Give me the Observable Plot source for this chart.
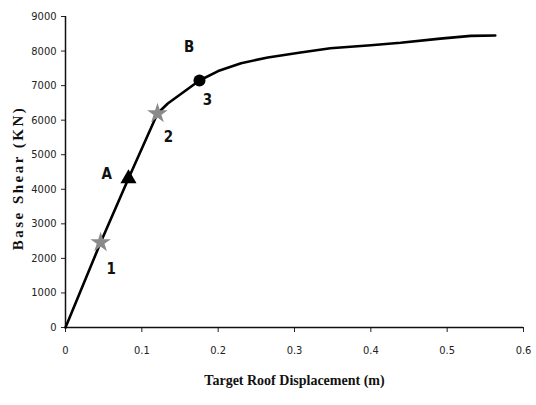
<!DOCTYPE html>
<html><head><meta charset="utf-8">
<script src="https://cdn.jsdelivr.net/npm/d3@7"></script>
<script src="https://cdn.jsdelivr.net/npm/@observablehq/plot@0.6"></script>
<style>
body{margin:0;background:#fff;}
svg{font-family:"Liberation Sans Narrow","DejaVu Sans Condensed",sans-serif;font-stretch:condensed;}
.ytitle text{letter-spacing:2.5px;}
</style>
</head><body><div id="chart"></div>
<script>
const displacement = [0, 0.046, 0.0825, 0.1205, 0.134, 0.1755, 0.2, 0.23, 0.265, 0.308, 0.347, 0.4, 0.439, 0.491, 0.531, 0.563];
const baseShear   = [0, 2460, 4311, 6192, 6481, 7147, 7420, 7650, 7812, 7957, 8080, 8170, 8240, 8360, 8440, 8450];

const starX = [0.046, 0.1205];
const starY = [2460, 6192];
const triX = [0.0825];
const triY = [4311];
const circX = [0.1755];
const circY = [7147];

const labelText = ["1", "A", "2", "B", "3"];
const labelX = [0.06, 0.054, 0.135, 0.162, 0.186];
const labelY = [1700, 4450, 5520, 8100, 6580];

const xTicks = [0, 0.1, 0.2, 0.3, 0.4, 0.5, 0.6];
const yTicks = [0, 1000, 2000, 3000, 4000, 5000, 6000, 7000, 8000, 9000];

const curve = displacement.map((d, i) => ({x: d, y: baseShear[i]}));
const stars = starX.map((d, i) => ({x: d, y: starY[i]}));
const tris = triX.map((d, i) => ({x: d, y: triY[i]}));
const circs = circX.map((d, i) => ({x: d, y: circY[i]}));
const labels = labelText.map((t, i) => ({t, x: labelX[i], y: labelY[i]}));

const chart = Plot.plot({
  width: 536,
  height: 405,
  marginLeft: 65,
  marginRight: 13,
  marginTop: 16,
  marginBottom: 78,
  style: {fontSize: "11px", color: "#222", background: "#fff"},
  x: {domain: [0, 0.6], label: null},
  y: {domain: [0, 9000], label: null},
  marks: [
    Plot.axisX({ticks: xTicks, tickSize: 5, tickPadding: 14, tickFormat: d => d === 0 ? "0" : String(d), label: null, fontSize: 11}),
    Plot.axisY({ticks: yTicks, tickSize: 4, tickPadding: 5, tickFormat: d => String(d), label: null, fontSize: 11}),
    Plot.ruleY([0], {stroke: "#111", strokeWidth: 1.5}),
    Plot.ruleX([0], {stroke: "#111", strokeWidth: 1.5}),
    Plot.line(curve, {x: "x", y: "y", stroke: "#000", strokeWidth: 2.6, strokeLinejoin: "round"}),
    Plot.dot(stars, {x: "x", y: "y", symbol: "star", r: 5, fill: "#8a8a8a", stroke: "#8a8a8a", strokeWidth: 1.5}),
    Plot.dot(tris, {x: "x", y: "y", symbol: "triangle", r: 6, fill: "#000"}),
    Plot.dot(circs, {x: "x", y: "y", symbol: "circle", r: 6, fill: "#000"}),
    Plot.text(labels, {x: "x", y: "y", text: "t", fontSize: 15, fontWeight: "bold", fill: "#111"}),
    Plot.text(["Target Roof Displacement (m)"], {frameAnchor: "bottom", dy: 57, fontSize: 14, fontWeight: "bold", fontFamily: "'Liberation Serif',serif", fill: "#111"}),
    Plot.text(["Base Shear (KN)"], {className: "ytitle", frameAnchor: "left", textAnchor: "middle", dx: -47, dy: 6, rotate: -90, fontSize: 15, fontWeight: "bold", fontFamily: "'Liberation Serif',serif", fill: "#111"})
  ]
});
document.getElementById("chart").appendChild(chart);
</script>
</body></html>
